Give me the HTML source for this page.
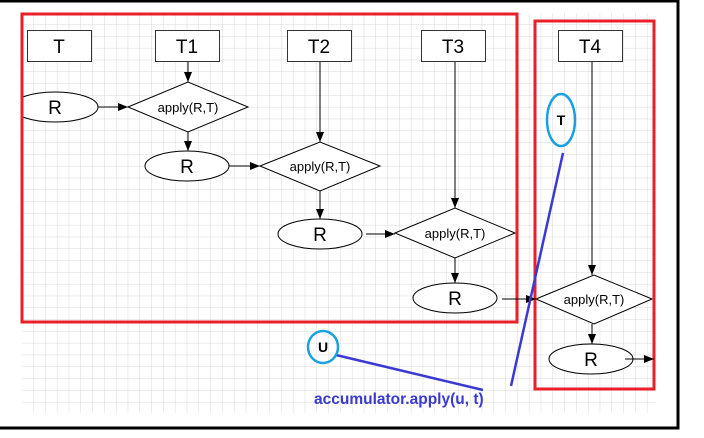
<!DOCTYPE html>
<html><head><meta charset="utf-8"><style>
html,body{margin:0;padding:0;background:#fff;}
svg{display:block;}
text{font-family:"Liberation Sans",Arial,sans-serif;}
</style></head><body>
<svg width="704" height="438" viewBox="0 0 704 438" xmlns="http://www.w3.org/2000/svg">
<defs>
<pattern id="g" x="22" y="13" width="11.8" height="11.8" patternUnits="userSpaceOnUse">
<path d="M11.8 0V11.8H0" fill="none" stroke="#d8d8d8" stroke-width="1"/>
</pattern>
<marker id="a" markerWidth="10" markerHeight="8" refX="10" refY="4" orient="auto" markerUnits="userSpaceOnUse">
<path d="M0,0L10,4L0,8z" fill="#000"/>
</marker>
<clipPath id="c"><rect x="23" y="0" width="700" height="438"/></clipPath>
</defs>
<rect x="0" y="0" width="704" height="438" fill="#fff"/>
<rect x="22" y="13" width="634" height="400" fill="url(#g)"/>
<path d="M0 1H678V428H0" fill="none" stroke="#000" stroke-width="3"/>
<g stroke="#000" stroke-width="1" fill="#fff">
<rect x="27.5" y="30.5" width="64" height="31" stroke="#333"/>
<rect x="155.5" y="30.5" width="64" height="31" stroke="#333"/>
<rect x="287.5" y="30.5" width="64" height="31" stroke="#333"/>
<rect x="421.5" y="30.5" width="64" height="31" stroke="#333"/>
<rect x="558.5" y="30.5" width="64" height="31" stroke="#333"/>
<path d="M128 107L188 82L248 107L188 132Z"/>
<path d="M260 166L320 142L380 166L320 191Z"/>
<path d="M395 233L455 208L515 233L455 258Z"/>
<path d="M536 299L594 275L652 299L594 324Z"/>
<ellipse cx="55" cy="107" rx="43" ry="15" clip-path="url(#c)"/>
<ellipse cx="187" cy="166" rx="42" ry="15"/>
<ellipse cx="320" cy="234" rx="42" ry="15"/>
<ellipse cx="455" cy="298" rx="42" ry="15"/>
<ellipse cx="591" cy="359" rx="42" ry="15"/>
</g>
<rect x="22" y="14" width="495" height="308" fill="none" stroke="#e8202a" stroke-width="3"/>
<rect x="535" y="21" width="119" height="368" fill="none" stroke="#e8202a" stroke-width="3"/>
<g stroke="#000" stroke-width="1" fill="none" marker-end="url(#a)">
<line x1="188" y1="62" x2="188" y2="82"/>
<line x1="98" y1="107" x2="128" y2="107"/>
<line x1="188" y1="132" x2="188" y2="151"/>
<line x1="320" y1="62" x2="320" y2="142"/>
<line x1="229" y1="166" x2="260" y2="166"/>
<line x1="320" y1="191" x2="320" y2="219"/>
<line x1="455" y1="62" x2="455" y2="208"/>
<line x1="366" y1="234" x2="395" y2="234"/>
<line x1="455" y1="258" x2="455" y2="283"/>
<line x1="592" y1="62" x2="592" y2="275"/>
<line x1="502" y1="299" x2="536" y2="299"/>
<line x1="592" y1="324" x2="592" y2="344"/>
<line x1="625" y1="359" x2="654" y2="359"/>
</g>
<g font-size="19" text-anchor="middle" fill="#000">
<text x="59" y="53">T</text>
<text x="187" y="53">T1</text>
<text x="319" y="53">T2</text>
<text x="453" y="53">T3</text>
<text x="590" y="53">T4</text>
<text x="55" y="114">R</text>
<text x="187" y="173">R</text>
<text x="320" y="241">R</text>
<text x="455" y="305">R</text>
<text x="591" y="366">R</text>
</g>
<g font-size="13" text-anchor="middle" fill="#000">
<text x="188" y="112">apply(R,T)</text>
<text x="320" y="171">apply(R,T)</text>
<text x="455" y="238">apply(R,T)</text>
<text x="594" y="304">apply(R,T)</text>
</g>
<g stroke="#3a3ad0" stroke-width="2.5" fill="none">
<line x1="336" y1="355" x2="483" y2="390"/>
<line x1="563" y1="153" x2="511" y2="386"/>
</g>
<ellipse cx="561" cy="120" rx="14" ry="26" fill="none" stroke="#1aa0e0" stroke-width="2.5"/>
<ellipse cx="323" cy="347" rx="15" ry="16" fill="none" stroke="#1aa0e0" stroke-width="2.5"/>
<text x="561" y="125" font-size="14" font-weight="bold" text-anchor="middle" fill="#000">T</text>
<text x="323" y="352" font-size="14" font-weight="bold" text-anchor="middle" fill="#000">U</text>
<text x="314" y="404" font-size="15.5" font-weight="bold" fill="#3a3ad0">accumulator.apply(u, t)</text>
</svg>
</body></html>
